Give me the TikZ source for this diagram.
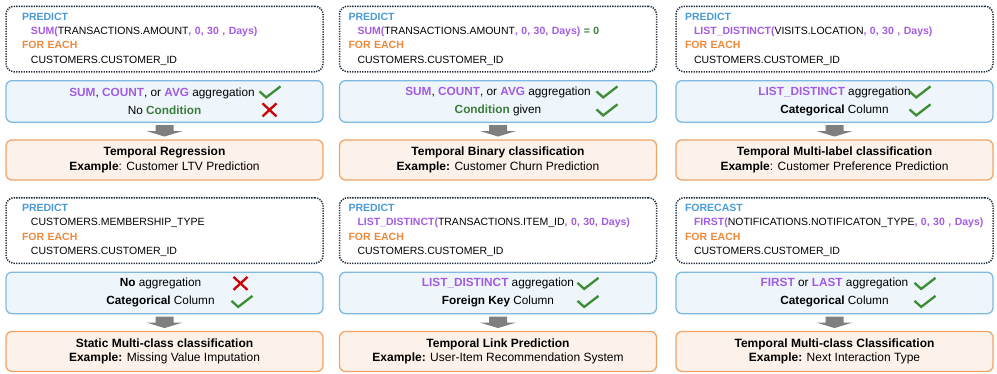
\documentclass[tikz,border=0pt]{standalone}
\usepackage{fontspec}
\setmainfont{Liberation Sans}
\usetikzlibrary{positioning, calc}

\definecolor{kwblue}{HTML}{4A9AD4}
\definecolor{kworange}{HTML}{F0883A}
\definecolor{fnpurple}{HTML}{A35BE3}
\definecolor{condgreen}{HTML}{3B7D3B}
\definecolor{okgreen}{HTML}{3E8C33}
\definecolor{nored}{HTML}{CC0000}
\definecolor{qborder}{HTML}{1F2B3A}
\definecolor{cborder}{HTML}{7DB9E3}
\definecolor{cfill}{HTML}{EEF6FB}
\definecolor{tborder}{HTML}{F2A367}
\definecolor{tfill}{HTML}{FDF2EA}
\definecolor{arrowgray}{HTML}{7F7F7F}

\newcommand{\qkw}[1]{\textcolor{kwblue}{\textbf{#1}}}
\newcommand{\qfe}{\textcolor{kworange}{\textbf{FOR EACH}}}
\newcommand{\qfn}[1]{\textcolor{fnpurple}{\textbf{#1}}}
\newcommand{\qcond}[1]{\textcolor{condgreen}{\textbf{#1}}}
\newcommand{\qline}[1]{\hspace*{9pt}\mbox{#1}}
\newcommand{\blockarrow}[2]{%
  \fill[arrowgray] ($(#1.south)!.5!(#2.north)+(-9,6)$) -- ++(18,0) -- ++(0,-6) -- ++(9,0)
    -- ($(#1.south)!.5!(#2.north)+(0,-5.5)$) -- ($(#1.south)!.5!(#2.north)+(-18,0)$)
    -- ++(9,0) -- cycle;}

\begin{document}
\begin{tikzpicture}[x=1pt, y=1pt,
  qbox/.style={draw=qborder, line width=1.5pt, dash pattern=on 1.3pt off 1.2pt,
    rounded corners=8pt, minimum height=65.5pt, text width=299pt, inner xsep=9pt,
    align=left, font=\fontsize{10.5}{14.3}\selectfont},
  cbox/.style={draw=cborder, fill=cfill, line width=1.3pt, rounded corners=6pt,
    minimum width=317pt, minimum height=41.5pt, align=center,
    font=\fontsize{11.8}{18}\selectfont},
  tbox/.style={draw=tborder, fill=tfill, line width=1.3pt, rounded corners=6pt,
    minimum width=317pt, minimum height=40pt, align=center,
    font=\fontsize{12}{14.6}\selectfont},
  okmark/.pic={\draw[okgreen, line width=2.3pt] (-10.5,0.5) -- (-3.8,-5.5) -- (10.5,5.5);},
  nomark/.pic={\draw[nored, line width=2.3pt] (-7,-6.5) -- (7,6.5) (-7,6.5) -- (7,-6.5);},
  node distance=7.5pt
]
\useasboundingbox (0,0) rectangle (997,-373);

% top row
\node[qbox, inner xsep=16pt, text width=285pt] (q1) at (164.5,-39)
  {\qkw{PREDICT}\\ \qline{\qfn{SUM(}TRANSACTIONS.AMOUNT\qfn{, 0, 30 , Days)}}\\
   \qfe\\ \qline{CUSTOMERS.CUSTOMER\_ID}};
\node[cbox, below=of q1] (c1)
  {\qfn{SUM}, \qfn{COUNT}, or \qfn{AVG} aggregation\hspace*{5pt}\\ No \qcond{Condition}};
\node[tbox, below=16.5pt of c1] (t1)
  {\textbf{Temporal Regression}\\ \textbf{Example}: Customer LTV Prediction};

\node[qbox] (q2) at (498,-39)
  {\qkw{PREDICT}\\ \qline{\qfn{SUM(}TRANSACTIONS.AMOUNT\qfn{, 0, 30, Days)} \qcond{= 0}}\\
   \qfe\\ \qline{CUSTOMERS.CUSTOMER\_ID}};
\node[cbox, below=of q2] (c2)
  {\qfn{SUM}, \qfn{COUNT}, or \qfn{AVG} aggregation\\ \qcond{Condition} given};
\node[tbox, below=16.5pt of c2] (t2)
  {\textbf{Temporal Binary classification}\\ \textbf{Example:} Customer Churn Prediction};

\node[qbox] (q3) at (834.5,-39)
  {\qkw{PREDICT}\\ \qline{\qfn{LIST\_DISTINCT(}VISITS.LOCATION\qfn{, 0, 30 , Days)}}\\
   \qfe\\ \qline{CUSTOMERS.CUSTOMER\_ID}};
\node[cbox, below=of q3] (c3)
  {\qfn{LIST\_DISTINCT} aggregation\\ \textbf{Categorical} Column};
\node[tbox, below=16.5pt of c3] (t3)
  {\textbf{Temporal Multi-label classification}\\ \textbf{Example}: Customer Preference Prediction};

% bottom row
\node[qbox, inner xsep=16pt, text width=285pt] (q4) at (164.5,-230.5)
  {\qkw{PREDICT}\\ \qline{CUSTOMERS.MEMBERSHIP\_TYPE}\\
   \qfe\\ \qline{CUSTOMERS.CUSTOMER\_ID}};
\node[cbox, below=of q4] (c4)
  {\textbf{No} aggregation\hspace*{8pt}\\ \textbf{Categorical} Column\hspace*{8pt}};
\node[tbox, below=16.5pt of c4] (t4)
  {\textbf{Static Multi-class classification}\\ \textbf{Example:} Missing Value Imputation};

\node[qbox] (q5) at (498,-230.5)
  {\qkw{PREDICT}\\ \qline{\qfn{LIST\_DISTINCT(}TRANSACTIONS.ITEM\_ID\qfn{, 0, 30, Days)}}\\
   \qfe\\ \qline{CUSTOMERS.CUSTOMER\_ID}};
\node[cbox, below=of q5] (c5)
  {\qfn{LIST\_DISTINCT} aggregation\\ \textbf{Foreign Key} Column};
\node[tbox, below=16.5pt of c5] (t5)
  {\textbf{Temporal Link Prediction}\\ \textbf{Example:} User-Item Recommendation System};

\node[qbox] (q6) at (834.5,-230.5)
  {\qkw{FORECAST}\\ \qline{\qfn{FIRST(}NOTIFICATIONS.NOTIFICATON\_TYPE\qfn{, 0, 30 , Days)}}\\
   \qfe\\ \qline{CUSTOMERS.CUSTOMER\_ID}};
\node[cbox, below=of q6] (c6)
  {\qfn{FIRST} or \qfn{LAST} aggregation\\ \textbf{Categorical} Column};
\node[tbox, below=16.5pt of c6] (t6)
  {\textbf{Temporal Multi-class Classification}\\ \textbf{Example:} Next Interaction Type};

% checks and crosses
\pic at ($(c1.center)+(105.5,9.5)$) {okmark};
\pic at ($(c1.center)+(105,-8.5)$) {nomark};
\pic at ($(c2.center)+(109,9.5)$) {okmark};
\pic at ($(c2.center)+(109,-8.5)$) {okmark};
\pic at ($(c3.center)+(85.5,9.5)$) {okmark};
\pic at ($(c3.center)+(85.5,-8.5)$) {okmark};
\pic at ($(c4.center)+(76,9.5)$) {nomark};
\pic at ($(c4.center)+(77.5,-8.5)$) {okmark};
\pic at ($(c5.center)+(90,9.5)$) {okmark};
\pic at ($(c5.center)+(90,-8.5)$) {okmark};
\pic at ($(c6.center)+(90.5,9.5)$) {okmark};
\pic at ($(c6.center)+(90.5,-8.5)$) {okmark};

% arrows
\blockarrow{c1}{t1}
\blockarrow{c2}{t2}
\blockarrow{c3}{t3}
\blockarrow{c4}{t4}
\blockarrow{c5}{t5}
\blockarrow{c6}{t6}
\end{tikzpicture}
\end{document}
